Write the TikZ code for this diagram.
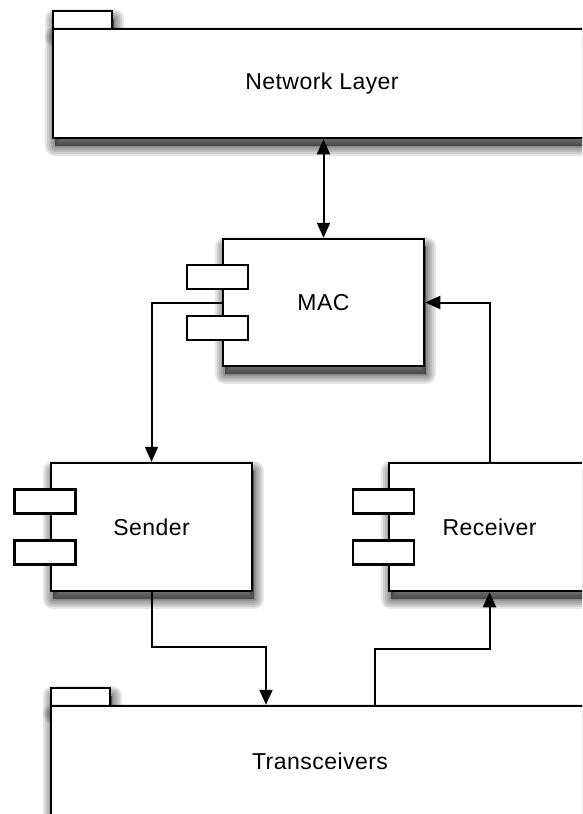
\documentclass[tikz,border=0pt]{standalone}
\usepackage{fontspec}
\setmainfont{Liberation Sans}[LetterSpace=2]
\usetikzlibrary{arrows.meta}

\begin{document}
\begin{tikzpicture}[x=1pt,y=-1pt,
  % soft drop shadow built from widening, faint strokes under the shape
  shadowlayer/.style={preaction={fill=black,draw=black,opacity=.1,line width=#1,
              line join=round,transform canvas={xshift=2pt,yshift=-8pt}}},
  shade/.style={shadowlayer=20pt,shadowlayer=16pt,shadowlayer=12pt,shadowlayer=8pt,
                shadowlayer=4pt,shadowlayer=1pt},
  box/.style={draw=black,line width=2.5pt,fill=white,inner sep=0pt,shade,
              font=\fontsize{23}{27}\selectfont},
  comp/.style={box,minimum width=201pt,minimum height=128pt},
  port/.style={draw=black,line width=2.1pt,fill=white,inner sep=0pt,
               minimum width=61pt,minimum height=24pt},
  pkg/.style={box,minimum width=538pt,minimum height=109pt},
  tab/.style={draw=black,line width=2.5pt,fill=white,inner sep=0pt,shade,
              minimum width=59pt,minimum height=18pt},
  link/.style={line width=2pt},
  tip/.style={-{Triangle[length=15pt,width=13pt]}},
  tips/.style={{Triangle[length=15pt,width=13pt]}-{Triangle[length=15pt,width=13pt]}}]

\useasboundingbox (0,0) rectangle (582,814);
\begin{scope}
\clip (0,0) rectangle (582,814);

% Network layer package
\node[tab] (nltab) at (82.5,20) {};
\node[pkg] (nl) at (322,83.5) {Network Layer};

% MAC component
\node[comp,minimum height=127pt] (mac) at (323.5,302.5) {MAC};
\node[port] (macp1) at (217.5,277) {};
\node[port] (macp2) at (217.5,328) {};

% Sender component
\node[comp] (sender) at (151.5,527) {Sender};
\node[port] (sndp1) at (45,501.5) {};
\node[port] (sndp2) at (45,552.5) {};

% Receiver component
\node[comp] (receiver) at (489.5,527) {Receiver};
\node[port] (rcvp1) at (383.5,501.5) {};
\node[port] (rcvp2) at (383.5,552.5) {};

% Transceivers package
\node[tab] (trxtab) at (80.5,697) {};
\node[pkg,minimum height=110pt] (trx) at (320,761) {Transceivers};

% bend points
\coordinate (s2t) at (266,647);
\coordinate (t2r) at (375,649);

% connectors
\draw[link,tips] (mac.north) -- (mac.north |- nl.south);
\draw[link,tip] (mac.west) -| (sender.north);
\draw[link,tip] (receiver.north) |- (mac.east);
\draw[link,tip] (sender.south) |- (s2t) -- (s2t |- trx.north);
\draw[link,tip] (t2r |- trx.north) -- (t2r) -| (receiver.south);
\end{scope}
\end{tikzpicture}
\end{document}
